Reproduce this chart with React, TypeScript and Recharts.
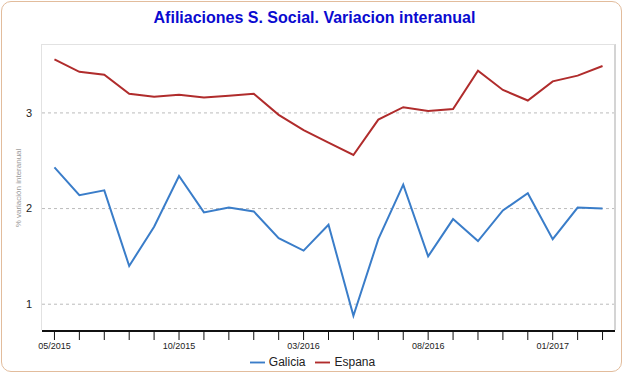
import React from 'react';
import { LineChart, Line, XAxis, YAxis, CartesianGrid, Legend } from 'recharts';

const months = [
  '05/2015', '06/2015', '07/2015', '08/2015', '09/2015', '10/2015', '11/2015', '12/2015',
  '01/2016', '02/2016', '03/2016', '04/2016', '05/2016', '06/2016', '07/2016', '08/2016',
  '09/2016', '10/2016', '11/2016', '12/2016', '01/2017', '02/2017', '03/2017',
];
const labeledMonths = ['05/2015', '10/2015', '03/2016', '08/2016', '01/2017'];
const galicia = [
  2.43, 2.14, 2.19, 1.40, 1.81, 2.34, 1.96, 2.01, 1.97, 1.69, 1.56, 1.83, 0.88,
  1.68, 2.25, 1.50, 1.89, 1.66, 1.98, 2.16, 1.68, 2.01, 2.00,
];
const espana = [
  3.56, 3.43, 3.40, 3.20, 3.17, 3.19, 3.16, 3.18, 3.20, 2.98, 2.82, 2.69, 2.56,
  2.93, 3.06, 3.02, 3.04, 3.44, 3.24, 3.13, 3.33, 3.39, 3.49,
];
const seriesOrder = ['Galicia', 'Espana'];
const yTicks = [1, 2, 3];

const data = months.map((m, i) => ({ month: m, Galicia: galicia[i], Espana: espana[i] }));

const FONT = '"Liberation Sans", Arial, Helvetica, sans-serif';

export default function App() {
  return (
    <div style={{ position: 'absolute', left: 0, top: 0, width: 625, height: 375, background: '#fff', fontFamily: FONT }}>
      <div
        style={{
          position: 'absolute', left: 1, top: 1, width: 621, height: 371,
          border: '1.5px solid #e2bc9c', borderRadius: 10, boxSizing: 'border-box',
        }}
      />
      <div
        style={{
          position: 'absolute', left: 2, top: 9, width: 625, textAlign: 'center',
          fontSize: 16, fontWeight: 'bold', color: '#0a0ad0', fontFamily: FONT, lineHeight: 'normal',
        }}
      >
        Afiliaciones S. Social. Variacion interanual
      </div>
      <div style={{ position: 'absolute', left: 0, top: 0 }}>
        <LineChart
          width={625}
          height={375}
          data={data}
          margin={{ top: 45, right: 10, left: 0, bottom: 2 }}
          style={{ fontFamily: FONT }}
        >
          <CartesianGrid
            vertical={false}
            horizontalValues={yTicks}
            stroke="#bbbbbb"
            strokeDasharray="3 3"
          />
          <XAxis
            dataKey="month"
            scale="band"
            interval={0}
            height={24}
            tickSize={9}
            tickMargin={3}
            axisLine={{ stroke: '#111', strokeWidth: 2 }}
            tickLine={{ stroke: '#111' }}
            tick={{ fontSize: 9, fill: '#222' }}
            tickFormatter={(v: string) => (labeledMonths.includes(v) ? v : '')}
          />
          <YAxis
            width={42}
            domain={[0.72, 3.71]}
            ticks={yTicks}
            tickLine={false}
            tickSize={6}
            tickMargin={4}
            axisLine={false}
            tick={{ fontSize: 11, fill: '#222' }}
            label={{
              content: (props: any) => {
                const vb = props.viewBox || { x: 0, y: 45, width: 42, height: 286 };
                const cx = vb.x + 18;
                const cy = vb.y + vb.height / 2;
                return (
                  <text
                    x={cx}
                    y={cy}
                    transform={`rotate(-90, ${cx}, ${cy})`}
                    textAnchor="middle"
                    dominantBaseline="central"
                    fontSize={8}
                    fill="#999"
                    fontFamily={FONT}
                  >
                    % variación interanual
                  </text>
                );
              },
            }}
          />
          <Legend
            verticalAlign="bottom"
            iconType="plainline"
            iconSize={15}
            itemSorter={(item: any) => seriesOrder.indexOf(item.value)}
            wrapperStyle={{ height: 18, left: 10, fontSize: 12 }}
            formatter={(value: string) => <span style={{ color: '#222', fontSize: 12 }}>{value}</span>}
          />
          <Line
            type="linear"
            dataKey="Galicia"
            stroke="#3a7dc9"
            strokeWidth={2}
            dot={false}
            isAnimationActive={false}
          />
          <Line
            type="linear"
            dataKey="Espana"
            stroke="#b02c2c"
            strokeWidth={2}
            dot={false}
            isAnimationActive={false}
          />
        </LineChart>
      </div>
      <div
        style={{
          position: 'absolute', left: 41, top: 44, width: 575, height: 286,
          borderTop: '1.5px solid #e2e2e2', borderLeft: '1.5px solid #e2e2e2',
          borderRight: '2px solid #d4d4d4', boxSizing: 'border-box', pointerEvents: 'none',
        }}
      />
    </div>
  );
}
